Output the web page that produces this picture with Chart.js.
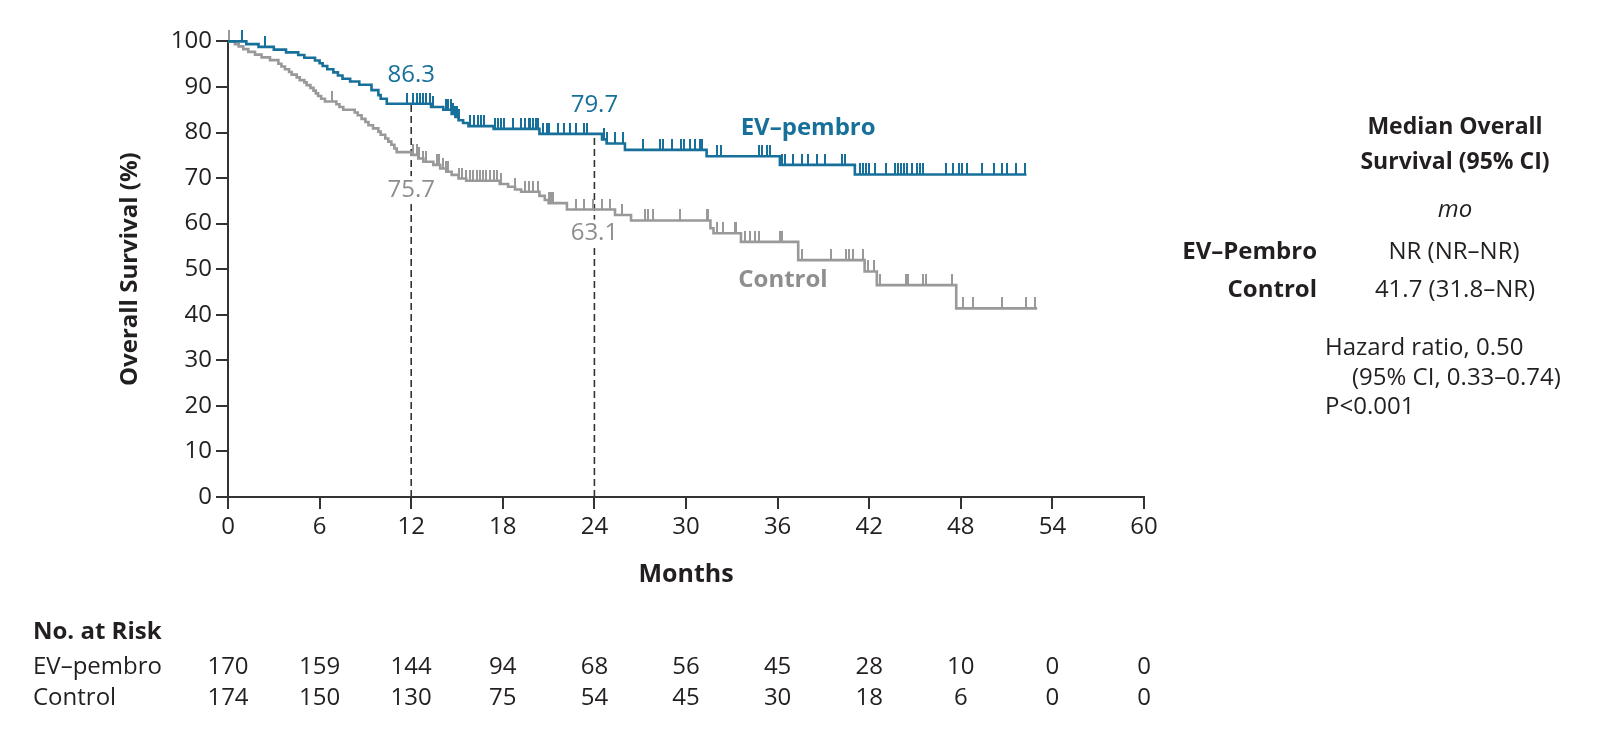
<!DOCTYPE html>
<html>
<head>
<meta charset="utf-8">
<title>Overall Survival</title>
<script src="https://cdn.jsdelivr.net/npm/chart.js@4.4.1/dist/chart.umd.min.js"></script>
<style>
  html, body { margin: 0; padding: 0; background: #fff; }
  #wrap { width: 1602px; height: 730px; }
</style>
</head>
<body>
<div id="wrap"><canvas id="osChart" width="1602" height="730"></canvas></div>
<script>
// Kaplan-Meier steps: month of each drop, % alive after it
const evTimes = [0, 1.2, 2.0, 3.0, 3.8, 4.6, 5.0, 5.7, 6.0, 6.2, 6.5, 6.9, 7.2, 7.5, 8.0, 8.6, 9.4, 9.85, 10.0, 10.4,
  13.3, 14.1, 14.65, 14.9, 15.1, 15.4, 15.75, 17.4, 20.4, 24.5, 24.8, 26.0, 31.35, 36.15, 41.06, 52.3];
const evSurv = [100, 99.4, 98.8, 98.2, 97.6, 97.0, 96.4, 95.8, 95.2, 94.6, 93.9, 93.2, 92.5, 91.8, 91.2, 90.5, 89.3, 88.2, 87.4, 86.3,
  85.6, 85.0, 84.1, 83.4, 82.7, 82.1, 81.4, 80.8, 79.7, 78.5, 77.6, 76.2, 74.8, 72.9, 70.8, 70.8];

const ctlTimes = [0, 0.45, 0.7, 1.0, 1.33, 1.77, 2.2, 2.75, 3.3, 3.5, 3.73, 4.0, 4.17, 4.5, 4.7, 5.0, 5.15, 5.4, 5.6, 5.75,
  5.9, 6.1, 6.35, 7.1, 7.3, 7.55, 8.3, 8.5, 8.75, 9.0, 9.2, 9.5, 9.85, 10.0, 10.3, 10.5, 10.7, 10.9, 11.05, 12.05,
  12.46, 12.8, 13.45, 13.9, 14.3, 14.65, 15.1, 15.6, 17.8, 18.35, 18.8, 19.2, 20.4, 20.75, 21.0, 22.2, 25.35, 26.4, 31.6, 31.8,
  33.6, 37.35, 41.7, 42.5, 47.7, 53.0];
const ctlSurv = [100, 99.4, 98.9, 98.3, 97.7, 97.1, 96.5, 95.9, 95.1, 94.5, 93.9, 93.3, 92.7, 92.1, 91.5, 91.0, 90.4, 89.8, 89.2, 88.6,
  88.0, 87.4, 86.8, 86.2, 85.6, 85.0, 84.4, 83.8, 83.0, 82.3, 81.6, 80.9, 80.2, 79.5, 78.7, 78.0, 77.3, 76.5, 75.7, 75.1,
  74.3, 73.6, 72.9, 72.1, 71.4, 70.7, 69.9, 69.4, 68.7, 68.1, 67.5, 67.0, 66.1, 65.2, 64.5, 63.1, 61.9, 60.7, 59.0, 57.9,
  56.0, 52.0, 49.5, 46.5, 41.4, 41.4];

// censoring marks (months)
const evCensor = [0.9, 2.4, 11.7, 12.1, 12.35, 12.6, 12.75, 12.97, 13.2, 13.4, 14.3, 14.4, 14.6, 14.75, 14.9, 15.0, 15.1,
  15.85, 16.1, 16.4, 16.6, 16.8, 17.5, 17.7, 17.9, 18.1, 18.7, 19.2, 19.45, 19.7, 19.8, 20.0, 20.2, 20.3, 20.65, 20.9, 21.0,
  21.6, 22.0, 22.4, 22.8, 23.3, 23.5, 24.65, 24.85, 25.35, 25.9, 27.2, 28.3, 28.5, 29.1, 29.7, 29.9, 30.25, 30.6, 30.9, 31.05,
  32.0, 32.3, 34.8, 35.0, 35.3, 35.5, 36.3, 36.5, 37.0, 37.6, 38.0, 38.55, 39.1, 40.2, 40.4, 41.4, 41.6, 41.8, 42.0, 42.4,
  43.1, 43.7, 43.9, 44.1, 44.3, 44.5, 44.8, 45.1, 45.3, 45.5, 47.0, 47.5, 47.9, 48.1, 48.4, 49.4, 50.2, 50.7, 51.0, 51.6, 52.2];
const ctlCensor = [0.05, 6.8, 12.1, 12.35, 12.5, 12.8, 13.0, 13.7, 13.8, 14.1, 14.3, 14.4, 15.1, 15.3, 15.6, 15.85, 16.05,
  16.3, 16.5, 16.7, 16.9, 17.15, 17.4, 17.6, 17.9, 18.8, 19.45, 19.7, 20.0, 20.3, 21.0, 21.1, 21.2, 21.3, 22.8, 23.3, 23.9,
  24.5, 25.0, 25.8, 27.3, 27.5, 27.85, 29.6, 31.35, 31.45, 32.0, 32.4, 33.2, 33.3, 33.85, 34.2, 34.5, 34.8, 36.15, 36.3,
  37.6, 39.5, 40.5, 40.7, 40.95, 41.6, 41.9, 42.3, 42.7, 44.4, 44.55, 45.5, 45.75, 47.4, 48.15, 48.8, 50.7, 52.3, 52.85];

// landmark estimates
const landmarkMonths = [12, 24];
const evLandmark = [86.3, 79.7];
const ctlLandmark = [75.7, 63.1];

// number at risk table
const riskMonths = [0, 6, 12, 18, 24, 30, 36, 42, 48, 54, 60];
const evAtRisk = [170, 159, 144, 94, 68, 56, 45, 28, 10, 0, 0];
const ctlAtRisk = [174, 150, 130, 75, 54, 45, 30, 18, 6, 0, 0];

const BLUE = '#17709a';
const GRAY = '#999999';
const GRAY_TEXT = '#8e8e8e';
const INK = '#231f20';
const FONT = '"Open Sans", "Noto Sans", sans-serif';

// survival value at month t (value after the last drop at or before t)
function survAt(times, surv, t) {
  let v = surv[0];
  for (let i = 0; i < times.length; i++) {
    if (times[i] <= t) v = surv[i];
  }
  return v;
}

// small vertical tick used as a censoring mark, rising above the curve
function makeTick(color) {
  const c = document.createElement('canvas');
  c.width = 2; c.height = 22;
  const g = c.getContext('2d');
  g.fillStyle = color;
  g.fillRect(0, 0, 2, 11);
  return c;
}

const stepData = (times, surv) => times.map((t, i) => ({ x: t, y: surv[i] }));
const censorData = (marks, times, surv) => marks.map(t => ({ x: t, y: survAt(times, surv, t) }));

// texts drawn on top of the plot
const textPlugin = {
  id: 'osText',
  afterDatasetsDraw(chart) {
    const { ctx } = chart;
    const xs = chart.scales.x, ys = chart.scales.y;
    ctx.save();
    ctx.textBaseline = 'middle';
    ctx.textAlign = 'center';

    // landmark labels
    const ctlGap = [38, 24];
    ctx.font = '24px ' + FONT;
    landmarkMonths.forEach((m, i) => {
      const x = xs.getPixelForValue(m);
      ctx.fillStyle = BLUE;
      ctx.fillText(evLandmark[i].toFixed(1), x, ys.getPixelForValue(evLandmark[i]) - 29);
      const txt = ctlLandmark[i].toFixed(1);
      const y = ys.getPixelForValue(ctlLandmark[i]) + ctlGap[i];
      const w = ctx.measureText(txt).width;
      ctx.fillStyle = '#ffffff';
      ctx.fillRect(x - w / 2 - 2, y - 14, w + 4, 28);
      ctx.fillStyle = GRAY_TEXT;
      ctx.fillText(txt, x, y);
    });

    // series labels
    ctx.font = 'bold 24px ' + FONT;
    ctx.fillStyle = BLUE;
    ctx.fillText('EV\u2013pembro', xs.getPixelForValue(38.0), ys.getPixelForValue(81.0));
    ctx.fillStyle = GRAY_TEXT;
    ctx.fillText('Control', xs.getPixelForValue(36.35), ys.getPixelForValue(47.6));

    // median overall survival block
    ctx.fillStyle = INK;
    ctx.font = 'bold 23px ' + FONT;
    ctx.fillText('Median Overall', 1455, 127);
    ctx.fillText('Survival (95% CI)', 1455, 162);
    ctx.font = 'italic 24px ' + FONT;
    ctx.fillText('mo', 1455, 210);
    ctx.font = '24px ' + FONT;
    ctx.fillText('NR (NR\u2013NR)', 1454, 252);
    ctx.fillText('41.7 (31.8\u2013NR)', 1455, 290);
    ctx.textAlign = 'right';
    ctx.font = 'bold 24px ' + FONT;
    ctx.fillText('EV\u2013Pembro', 1317, 252);
    ctx.fillText('Control', 1317, 290);
    ctx.textAlign = 'left';
    ctx.font = '24px ' + FONT;
    ctx.fillText('Hazard ratio, 0.50', 1325, 348);
    ctx.fillText('(95% CI, 0.33\u20130.74)', 1352, 378);
    ctx.fillText('P<0.001', 1325, 407);

    // number at risk
    ctx.font = 'bold 24px ' + FONT;
    ctx.fillText('No. at Risk', 33, 632);
    ctx.font = '24px ' + FONT;
    ctx.fillText('EV\u2013pembro', 33, 667);
    ctx.fillText('Control', 33, 698);
    ctx.textAlign = 'center';
    riskMonths.forEach((m, i) => {
      const x = xs.getPixelForValue(m);
      ctx.fillText(String(evAtRisk[i]), x, 667);
      ctx.fillText(String(ctlAtRisk[i]), x, 698);
    });
    ctx.restore();
  }
};

const landmarkSets = landmarkMonths.map((m, i) => ({
  data: [{ x: m, y: 0 }, { x: m, y: evLandmark[i] }],
  showLine: true,
  borderColor: '#333333',
  borderWidth: 1.6,
  borderDash: [7, 4],
  pointRadius: 0
}));

new Chart(document.getElementById('osChart'), {
  type: 'scatter',
  data: {
    datasets: [
      { data: stepData(evTimes, evSurv), showLine: true, stepped: true, borderColor: BLUE, borderWidth: 2.6, pointRadius: 0, clip: false },
      { data: censorData(evCensor, evTimes, evSurv), showLine: false, pointStyle: makeTick(BLUE), pointRadius: 4, clip: false },
      { data: stepData(ctlTimes, ctlSurv), showLine: true, stepped: true, borderColor: GRAY, borderWidth: 2.6, pointRadius: 0, clip: false },
      { data: censorData(ctlCensor, ctlTimes, ctlSurv), showLine: false, pointStyle: makeTick(GRAY), pointRadius: 4, clip: false },
      ...landmarkSets
    ]
  },
  options: {
    responsive: false,
    animation: false,
    events: [],
    layout: { padding: { left: 0, right: 458, top: 41.4, bottom: 0 } },
    plugins: { legend: { display: false }, tooltip: { enabled: false } },
    scales: {
      x: {
        type: 'linear', min: 0, max: 60,
        afterFit: s => { s.height = 233; },
        grid: { drawOnChartArea: false, drawTicks: true, tickLength: 12, color: '#333333', lineWidth: 2 },
        border: { display: true, color: '#333333', width: 2 },
        ticks: { stepSize: 6, autoSkip: false, maxRotation: 0, padding: 4, color: INK, font: { family: FONT, size: 24 } },
        title: { display: true, text: 'Months', color: INK, font: { family: FONT, size: 25, weight: 'bold' }, padding: { top: 0, bottom: 140 } }
      },
      y: {
        type: 'linear', min: 0, max: 100,
        afterFit: s => { s.width = 228; },
        grid: { drawOnChartArea: false, drawTicks: true, tickLength: 12, color: '#333333', lineWidth: 2 },
        border: { display: true, color: '#333333', width: 2 },
        ticks: { stepSize: 10, padding: 4, color: INK, font: { family: FONT, size: 24 } },
        title: { display: true, text: 'Overall Survival (%)', color: INK, font: { family: FONT, size: 24, weight: 'bold' }, padding: { top: 116, bottom: 0 } }
      }
    }
  },
  plugins: [textPlugin]
});
</script>
</body>
</html>
